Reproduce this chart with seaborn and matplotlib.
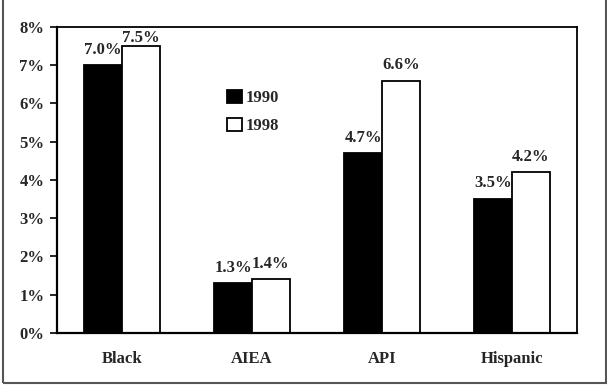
import matplotlib
matplotlib.use("Agg")
import matplotlib.pyplot as plt
import seaborn as sns
import pandas as pd
from matplotlib.patches import Rectangle

groups = ["Black", "AIEA", "API", "Hispanic"]
years = ["1990", "1998"]
share_1990 = [7.0, 1.3, 4.7, 3.5]
share_1998 = [7.5, 1.4, 6.6, 4.2]
yticks = [0, 1, 2, 3, 4, 5, 6, 7, 8]

df = pd.DataFrame({
    "group": groups * 2,
    "year": [years[0]] * 4 + [years[1]] * 4,
    "share": share_1990 + share_1998,
})

sns.set_style("white")
plt.rcParams["font.family"] = ["Liberation Serif", "DejaVu Serif"]
plt.rcParams["font.weight"] = "bold"

fig = plt.figure(figsize=(6.07, 3.88), dpi=100)
ax = fig.add_axes([0.0939, 0.1418, 0.8567, 0.7886])

sns.barplot(data=df, x="group", y="share", hue="year", order=groups,
            hue_order=years, palette={"1990": "black", "1998": "white"},
            edgecolor="black", linewidth=1.3, width=0.58, ax=ax)

ymax = 8
for cont in ax.containers:
    texts = ax.bar_label(cont, labels=[f"{v:.1f}%" for v in cont.datavalues],
                         padding=5.5, fontsize=12, fontweight="bold")
    # labels that would run into the top of the frame sit closer to their bar
    for t, v in zip(texts, cont.datavalues):
        if v > ymax - 0.7:
            t.xyann = (0, 0.3)

ax.set_ylim(0, ymax)
ax.set_xlim(-0.5, 3.5)
ax.set_yticks(yticks)
ax.set_yticklabels([f"{t}%" for t in yticks])
ax.set_xlabel("")
ax.set_ylabel("")
ax.tick_params(axis="y", direction="out", length=5, width=1.2, left=True,
               labelsize=12, pad=4, color="black")
ax.tick_params(axis="x", length=0, labelsize=12, pad=13)
for s in ["left", "bottom"]:
    ax.spines[s].set_linewidth(1.6)
for s in ["top", "right"]:
    ax.spines[s].set_linewidth(1.3)
for s in ax.spines.values():
    s.set_color("black")

leg = ax.legend(loc="center left", bbox_to_anchor=(0.315, 0.722), frameon=False,
                fontsize=12, handlelength=0.85, handleheight=0.85,
                handletextpad=0.25, labelspacing=0.7, borderaxespad=0)

fig.patches.append(Rectangle((3 / 607, 5 / 388), 603 / 607, 1.0, transform=fig.transFigure,
                             fill=False, edgecolor="#555555", linewidth=1.5,
                             clip_on=False))

fig.savefig("out.png", dpi=100)
